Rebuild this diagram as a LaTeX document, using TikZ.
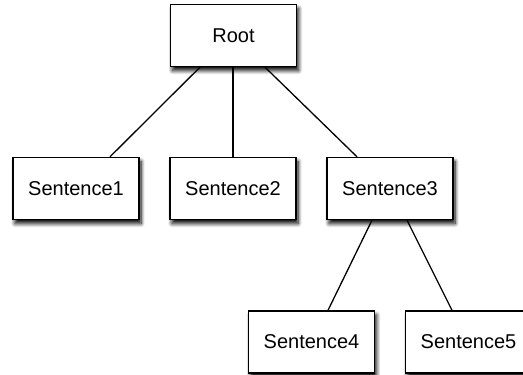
\documentclass[tikz,border=0pt]{standalone}
\usepackage{fontspec}
\setmainfont{Liberation Sans}
\usetikzlibrary{shadows.blur}
\begin{document}
\begin{tikzpicture}[x=1pt,y=-1pt,
  box/.style={draw=black, line width=1.4pt, fill=white, minimum width=126pt, minimum height=62pt, inner sep=0pt,
    font=\fontsize{20}{24}\selectfont,
    blur shadow={shadow xshift=2pt, shadow yshift=-4pt, shadow blur steps=8, shadow blur radius=4pt, shadow opacity=100}},
  link/.style={line width=1.3pt}]
\useasboundingbox (0,0) rectangle (523,375);
\node[box] (root) at (233.5,35.5) {Root};
\node[box] (s1) at (76,188.5) {Sentence1};
\node[box] (s2) at (233,188.5) {Sentence2};
\node[box] (s3) at (390,188.5) {Sentence3};
\node[box] (s4) at (311.5,342) {Sentence4};
\node[box] (s5) at (468.5,342) {Sentence5};
\draw[link] ([xshift=-33.5pt]root.south) -- ([xshift=34pt]s1.north);
\draw[link] (s2.north |- root.south) -- (s2.north);
\draw[link] ([xshift=31.5pt]root.south) -- ([xshift=-33pt]s3.north);
\draw[link] ([xshift=-18pt]s3.south) -- ([xshift=16.5pt]s4.north);
\draw[link] ([xshift=17pt]s3.south) -- ([xshift=-16.5pt]s5.north);
\end{tikzpicture}
\end{document}
